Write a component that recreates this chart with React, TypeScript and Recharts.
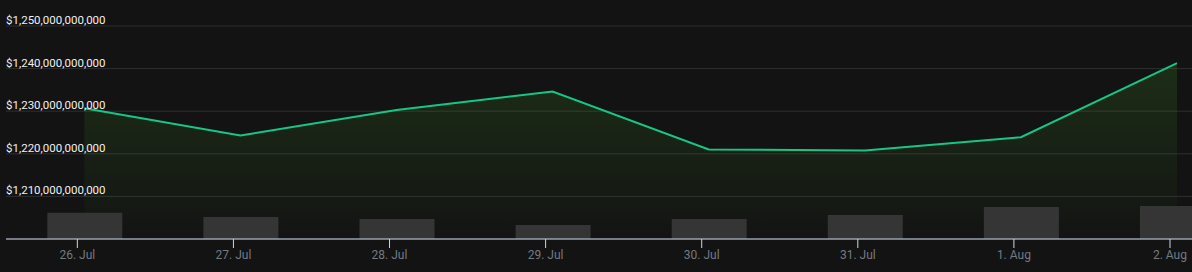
import { ComposedChart, Area, Bar, XAxis, YAxis, CartesianGrid } from 'recharts';

// daily snapshot, taken a little after midnight
const dayLabels = ['26. Jul', '27. Jul', '28. Jul', '29. Jul', '30. Jul', '31. Jul', '1. Aug', '2. Aug'];
const marketCap = [1230.7, 1224.3, 1230.3, 1234.6, 1221.0, 1220.8, 1223.9, 1241.3]; // billions USD
const volume = [52.6, 44.0, 40.0, 28.0, 40.0, 48.0, 64.0, 66.0]; // billions USD
const priceTicks = [1210, 1220, 1230, 1240, 1250];
const snapshotOffset = 0.045; // fraction of a day after midnight

const rows = dayLabels.map((_, i) => ({ t: i + snapshotOffset, cap: marketCap[i], vol: volume[i] }));
const dayTicks = dayLabels.map((_, i) => i);

const fmtUsd = (v: number) => '$' + Math.round(v * 1e9).toLocaleString('en-US');
const FONT = "Roboto, 'Noto Sans', sans-serif";

const renderPriceTick = ({ x, y, payload }: any) => (
  <text key={payload.value} x={x} y={y - 2} fill="#f0f0f0" fontSize={11.5} fontFamily={FONT} textAnchor="start">
    {fmtUsd(payload.value)}
  </text>
);

export default function App() {
  return (
    <div style={{ position: 'fixed', left: 0, top: 0, width: 1192, height: 272, background: '#131313' }}>
      <ComposedChart width={1192} height={272} data={rows} margin={{ top: 26, right: 0, left: 6, bottom: 0 }}>
        <defs>
          <linearGradient id="capFill" x1="0" y1="0" x2="0" y2="1">
            <stop offset="0%" stopColor="#4caf28" stopOpacity={0.17} />
            <stop offset="80%" stopColor="#4caf28" stopOpacity={0.04} />
            <stop offset="100%" stopColor="#4caf28" stopOpacity={0} />
          </linearGradient>
        </defs>
        <CartesianGrid vertical={false} stroke="#2f2f2f" yAxisId="cap" />
        <XAxis
          dataKey="t"
          type="number"
          domain={[-0.457, 7.141]}
          allowDataOverflow
          ticks={dayTicks}
          tickFormatter={(v: number) => dayLabels[v]}
          height={33}
          stroke="#ccd6eb"
          tickSize={9}
          tickMargin={2}
          tick={{ fill: '#737a82', fontSize: 12, fontFamily: FONT }}
        />
        <YAxis
          yAxisId="cap"
          domain={[1200, 1250]}
          ticks={priceTicks}
          width={1}
          mirror
          axisLine={false}
          tickLine={false}
          tickSize={0}
          tickMargin={0}
          tick={renderPriceTick}
          interval={0}
        />
        <YAxis yAxisId="vol" hide domain={[0, 426]} />
        <Bar yAxisId="vol" dataKey="vol" fill="#353535" barSize={75} isAnimationActive={false} />
        <Area
          yAxisId="cap"
          type="linear"
          dataKey="cap"
          stroke="#16c784"
          strokeWidth={2}
          fill="url(#capFill)"
          fillOpacity={1}
          dot={false}
          activeDot={false}
          isAnimationActive={false}
        />
      </ComposedChart>
    </div>
  );
}
